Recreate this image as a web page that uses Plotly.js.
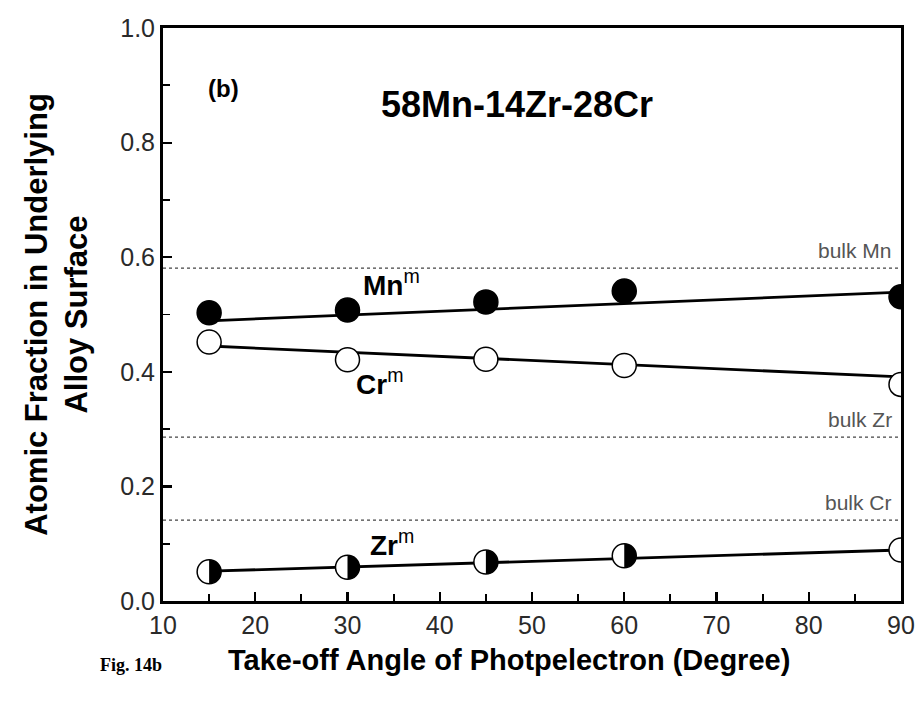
<!DOCTYPE html>
<html>
<head>
<meta charset="utf-8">
<script src="https://cdn.plot.ly/plotly-3.0.1.min.js"></script>
<style>html,body{margin:0;padding:0;background:#fff;}#chart{width:921px;height:707px;}</style>
</head>
<body>
<div id="chart"></div>
<script>
// ---- data ----
const angles = [15, 30, 45, 60, 90];
const mnValues = [0.503, 0.508, 0.522, 0.541, 0.531];
const crValues = [0.452, 0.421, 0.422, 0.411, 0.378];
const zrValues = [0.051, 0.059, 0.068, 0.079, 0.089];
const fitAngles = [15, 90];
const mnFit = [0.489, 0.539];
const crFit = [0.445, 0.391];
const zrFit = [0.052, 0.089];
const bulkLabels = ["bulk Mn", "bulk Zr", "bulk Cr"];
const bulkValues = [0.581, 0.286, 0.141];
const xTicks = [10, 20, 30, 40, 50, 60, 70, 80, 90];
const yTicks = [0.0, 0.2, 0.4, 0.6, 0.8, 1.0];

const FONT = "Liberation Sans, Arial, sans-serif";
const MS = 24;

const traces = [];
function fit(y) {
  return {x: fitAngles, y: y, mode: "lines", line: {color: "#000", width: 2.8},
          hoverinfo: "skip", showlegend: false};
}
traces.push(fit(mnFit), fit(crFit), fit(zrFit));
traces.push({x: angles, y: mnValues, mode: "markers", showlegend: false,
  marker: {symbol: "circle", size: MS, color: "#000", line: {color: "#000", width: 1.5}}});
traces.push({x: angles, y: crValues, mode: "markers", showlegend: false,
  marker: {symbol: "circle", size: MS, color: "#fff", line: {color: "#000", width: 1.5}}});
traces.push({x: angles, y: zrValues, mode: "markers", showlegend: false,
  marker: {symbol: "circle", size: MS, color: "#fff", line: {color: "#000", width: 1.5}}});

// half-filled (right half black) markers for Zr, pixel-sized shapes anchored on data
function halfPath(r) {
  let p = "M 0 " + (-r);
  for (let i = 0; i <= 24; i++) {
    const a = -Math.PI / 2 + Math.PI * i / 24;
    p += " L " + (r * Math.cos(a)).toFixed(2) + " " + (r * Math.sin(a)).toFixed(2);
  }
  return p + " Z";
}
const shapes = [];
bulkValues.forEach(v => shapes.push({type: "line", xref: "paper", x0: 0, x1: 1, yref: "y", y0: v, y1: v,
  line: {color: "#444", width: 1.2, dash: "dot"}, layer: "below"}));
angles.forEach((a, i) => shapes.push({type: "path", xref: "x", yref: "y",
  xsizemode: "pixel", ysizemode: "pixel", xanchor: a, yanchor: zrValues[i],
  path: halfPath(MS / 2), fillcolor: "#000", line: {width: 0}, layer: "above"}));

const annotations = [];
bulkLabels.forEach((t, i) => annotations.push({text: t, xref: "paper", x: 0.99, xanchor: "right",
  yref: "y", y: bulkValues[i], yanchor: "bottom", yshift: 4, showarrow: false,
  font: {family: FONT, size: 21, color: "#555"}}));
function lab(text, x, y) {
  annotations.push({text: text, xref: "x", yref: "y", x: x, y: y, showarrow: false,
    xanchor: "left", yanchor: "middle", font: {family: FONT, size: 28, color: "#000"}});
}
lab("<b>Mn</b><sup>m</sup>", 31.5, 0.555);
lab("<b>Cr</b><sup>m</sup>", 30.7, 0.382);
lab("<b>Zr</b><sup>m</sup>", 32.2, 0.101);
annotations.push({text: "<b>(b)</b>", xref: "x", yref: "y", x: 14.7, y: 0.894, xanchor: "left",
  showarrow: false, font: {family: FONT, size: 24, color: "#000"}});
annotations.push({text: "<b>58Mn-14Zr-28Cr</b>", xref: "x", yref: "y", x: 48.4, y: 0.866,
  showarrow: false, font: {family: FONT, size: 36, color: "#000"}});
annotations.push({text: "<b>Fig. 14b</b>", xref: "paper", yref: "paper", x: -0.043, y: -0.112,
  xanchor: "center", yanchor: "middle", showarrow: false,
  font: {family: "Liberation Serif, Times New Roman, serif", size: 18, color: "#000"}});
annotations.push({text: "<b>Take-off Angle of Photpelectron (Degree)</b>", xref: "paper", yref: "paper",
  x: 0.469, y: -0.103, xanchor: "center", yanchor: "middle", showarrow: false,
  font: {family: FONT, size: 29, color: "#000"}});

const layout = {
  width: 921, height: 707,
  margin: {l: 163, r: 20, t: 28, b: 106},
  paper_bgcolor: "#fff", plot_bgcolor: "#fff",
  showlegend: false,
  font: {family: FONT, color: "#222"},
  xaxis: {range: [10, 90], tickvals: xTicks, ticks: "inside", ticklen: 9, tickwidth: 2.2,
    tickcolor: "#000", showgrid: false, zeroline: false, showline: true, linecolor: "#000",
    linewidth: 3, mirror: true, tickfont: {family: FONT, size: 25, color: "#2a2a2a"},
    minor: {dtick: 5, ticks: "inside", ticklen: 7, tickwidth: 1.8, tickcolor: "#000", showgrid: false}},
  yaxis: {range: [0, 1.0], tickvals: yTicks, tickformat: ".1f", ticks: "inside", ticklen: 9,
    tickwidth: 2.2, tickcolor: "#000", showgrid: false, zeroline: false, showline: true,
    linecolor: "#000", linewidth: 3, mirror: true,
    tickfont: {family: FONT, size: 25, color: "#2a2a2a"},
    minor: {dtick: 0.1, ticks: "inside", ticklen: 7, tickwidth: 1.8, tickcolor: "#000", showgrid: false},
    title: {text: "<b>Atomic Fraction in Underlying<br>Alloy Surface</b>", standoff: 24,
      font: {family: FONT, size: 31, color: "#000"}}},
  shapes: shapes,
  annotations: annotations
};

Plotly.newPlot("chart", traces, layout, {displayModeBar: false, staticPlot: true});
</script>
</body>
</html>
